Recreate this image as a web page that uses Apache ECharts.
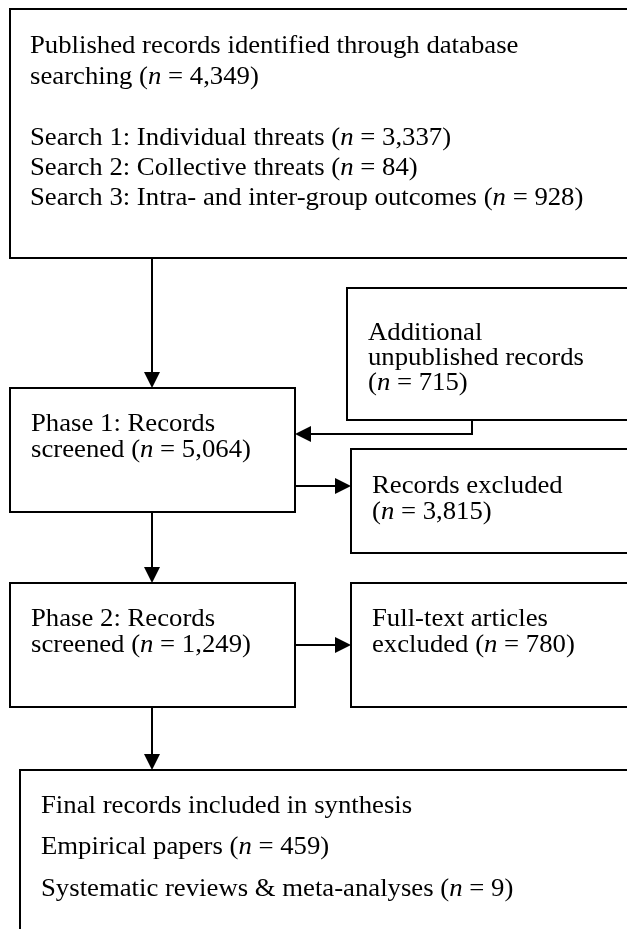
<!DOCTYPE html>
<html>
<head>
<meta charset="utf-8">
<style>
  html, body { margin: 0; padding: 0; background: #ffffff; }
  #chart { width: 627px; height: 929px; }
</style>
<script src="https://cdn.jsdelivr.net/npm/echarts@6/dist/echarts.min.js"></script>
</head>
<body>
<div id="chart"></div>
<script>
// ---- Chart content (text lines; *n* marks italic n) ----
var identifiedLines = [
  'Published records identified through database',
  'searching (*n* = 4,349)'
];
var searchLines = [
  'Search 1: Individual threats (*n* = 3,337)',
  'Search 2: Collective threats (*n* = 84)',
  'Search 3: Intra- and inter-group outcomes (*n* = 928)'
];
var additionalLines = ['Additional', 'unpublished records', '(*n* = 715)'];
var phase1Lines = ['Phase 1: Records', 'screened (*n* = 5,064)'];
var excludedLines = ['Records excluded', '(*n* = 3,815)'];
var phase2Lines = ['Phase 2: Records', 'screened (*n* = 1,249)'];
var fullTextLines = ['Full-text articles', 'excluded (*n* = 780)'];
var finalLines = [
  'Final records included in synthesis',
  'Empirical papers (*n* = 459)',
  'Systematic reviews & meta-analyses (*n* = 9)'
];

// ---- Layout ----
var FONT = '"Liberation Serif", "Times New Roman", serif';
var FS = 26;
var SX = 1.028;
var LW = 2;
var elements = [];

function rich(s) { return s.replace(/\*n\*/g, '{i|n}'); }

function box(x, y, x2, y2) {
  elements.push({
    type: 'rect', silent: true,
    shape: { x: x, y: y, width: x2 - x, height: y2 - y },
    style: { fill: '#ffffff', stroke: '#000000', lineWidth: LW }
  });
}
function lines(arr, x, firstBaseline, spacing) {
  arr.forEach(function (t, i) {
    if (!t) return;
    elements.push({
      type: 'text', silent: true,
      x: x, y: firstBaseline + i * spacing - 9,
      scaleX: SX,
      style: {
        x: 0, y: 0,
        text: rich(t),
        font: FS + 'px ' + FONT,
        fill: '#000000',
        align: 'left', verticalAlign: 'middle',
        rich: { i: { fontStyle: 'italic', fontSize: FS, fontFamily: FONT, fill: '#000000' } }
      }
    });
  });
}
function line(pts) {
  elements.push({
    type: 'polyline', silent: true,
    shape: { points: pts },
    style: { stroke: '#000000', lineWidth: LW, fill: null }
  });
}
function head(tx, ty, dir) {
  var L = 16, W = 8, pts;
  if (dir === 'down') pts = [[tx - W, ty - L], [tx + W, ty - L], [tx, ty]];
  else if (dir === 'right') pts = [[tx - L, ty - W], [tx - L, ty + W], [tx, ty]];
  else pts = [[tx + L, ty - W], [tx + L, ty + W], [tx, ty]];
  elements.push({
    type: 'polygon', silent: true,
    shape: { points: pts },
    style: { fill: '#000000', stroke: null }
  });
}

// boxes
box(10, 9, 650, 258);
box(347, 288, 650, 420);
box(10, 388, 295, 512);
box(351, 449, 650, 553);
box(10, 583, 295, 707);
box(351, 583, 650, 707);
box(20, 770, 650, 960);

// texts
lines(identifiedLines, 30, 55, 31);
lines(searchLines, 30, 147, 30);
lines(additionalLines, 368, 342, 25);
lines(phase1Lines, 31, 433, 26);
lines(excludedLines, 372, 495, 26);
lines(phase2Lines, 31, 628, 26);
lines(fullTextLines, 372, 628, 26);
lines(finalLines, 41, 815, 41.5);

// connectors
line([[152, 258], [152, 375]]); head(152, 388, 'down');
line([[472, 420], [472, 434], [305, 434]]); head(295, 434, 'left');
line([[295, 486], [340, 486]]); head(351, 486, 'right');
line([[152, 512], [152, 570]]); head(152, 583, 'down');
line([[295, 645], [340, 645]]); head(351, 645, 'right');
line([[152, 707], [152, 757]]); head(152, 770, 'down');

var chart = echarts.init(document.getElementById('chart'), null, { renderer: 'canvas' });
chart.setOption({
  backgroundColor: '#ffffff',
  animation: false,
  graphic: { elements: elements }
});
</script>
</body>
</html>
